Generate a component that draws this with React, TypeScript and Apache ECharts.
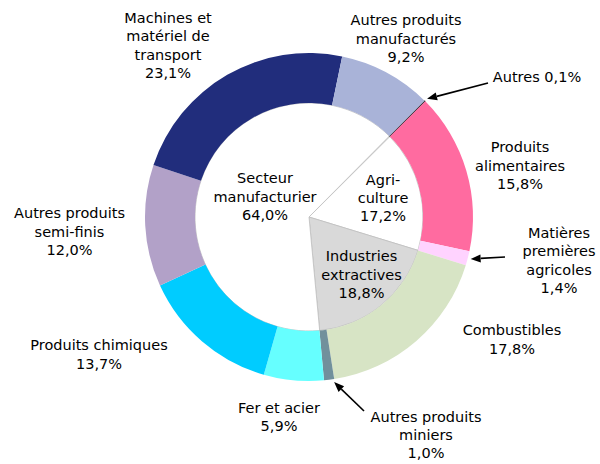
import React, { useEffect, useRef } from "react";
import * as echarts from "echarts";

// Outer ring (products), clockwise starting from "Autres"
const outerNames = [
  "Autres",
  "Produits\nalimentaires",
  "Matières\npremières\nagricoles",
  "Combustibles",
  "Autres produits\nminiers",
  "Fer et acier",
  "Produits chimiques",
  "Autres produits\nsemi-finis",
  "Machines et\nmatériel de\ntransport",
  "Autres produits\nmanufacturés",
];
const outerValues = [0.1, 15.8, 1.4, 17.8, 1.0, 5.9, 13.7, 12.0, 23.1, 9.2];
const outerColors = [
  "#1a1a1a",
  "#FF6BA0",
  "#FFD3FF",
  "#D7E4C5",
  "#71909C",
  "#66FFFF",
  "#00CCFF",
  "#B2A1C8",
  "#212D7C",
  "#A9B3D8",
];

// Inner pie (sectors)
const innerNames = ["Autres", "Agri-\nculture", "Industries\nextractives", "Secteur\nmanufacturier"];
const innerValues = [0.1, 17.2, 18.8, 64.0];
const innerColors = ["#ffffff", "#ffffff", "#D9D9D9", "#ffffff"];

// label anchor positions (layout only)
const outerLabelPos: [number, number][] = [
  [537, 77],
  [520, 165.5],
  [559, 260.5],
  [512, 339.5],
  [426, 435],
  [279, 417],
  [99, 354.5],
  [69.5, 231.5],
  [168, 45.5],
  [406, 38.5],
];
const innerLabelPos: [number, number][] = [
  [0, 0],
  [383, 198],
  [361.5, 274.5],
  [265, 196.5],
];

// arrows: [dataIndex, fraction within slice for tip, tailX, tailY]
const arrows: [number, number, number, number][] = [
  [0, 0.5, 488, 83],
  [2, 0.5, 505, 257],
  [4, 0.05, 364, 411],
];

const CX = 309;
const CY = 217;
const R_IN = 114;
const R_OUT = 164;
const START_THETA = 44.8; // degrees clockwise from 12 o'clock

const fmt = (v: number) => v.toFixed(1).replace(".", ",") + "%";

export default function App() {
  const ref = useRef<HTMLDivElement>(null);
  useEffect(() => {
    document.body.style.margin = "0";
    if (!ref.current) return;
    const chart = echarts.init(ref.current, undefined, { renderer: "svg" });

    const total = outerValues.reduce((a, b) => a + b, 0);
    const cum: number[] = [];
    let acc = 0;
    outerValues.forEach((v) => {
      cum.push(acc);
      acc += v;
    });

    const graphics: any[] = [];
    arrows.forEach(([idx, frac, tx, ty]) => {
      const theta =
        ((START_THETA + ((cum[idx] + outerValues[idx] * frac) / total) * 360) * Math.PI) / 180;
      const r = R_OUT + 3;
      const px = CX + r * Math.sin(theta);
      const py = CY - r * Math.cos(theta);
      const dx = px - tx;
      const dy = py - ty;
      const len = Math.sqrt(dx * dx + dy * dy);
      const ux = dx / len;
      const uy = dy / len;
      const bx = px - ux * 10;
      const by = py - uy * 10;
      const nx = -uy * 4;
      const ny = ux * 4;
      graphics.push({
        type: "line",
        shape: { x1: tx, y1: ty, x2: bx, y2: by },
        style: { stroke: "#000", lineWidth: 1.6 },
        silent: true,
      });
      graphics.push({
        type: "polygon",
        shape: {
          points: [
            [px, py],
            [bx + nx, by + ny],
            [bx - nx, by - ny],
          ],
        },
        style: { fill: "#000" },
        silent: true,
      });
    });

    const textStyle = {
      fontFamily: "DejaVu Sans, Verdana, sans-serif",
      fontSize: 14.5,
      color: "#000",
      lineHeight: 18.3,
      align: "center" as const,
    };

    chart.setOption({
      animation: false,
      backgroundColor: "#ffffff",
      graphic: graphics,
      series: [
        {
          type: "pie",
          center: [CX, CY],
          radius: [0, R_IN],
          startAngle: 90 - START_THETA,
          clockwise: true,
          avoidLabelOverlap: false,
          silent: true,
          itemStyle: { borderColor: "#BFBFBF", borderWidth: 0.8 },
          label: {
            show: true,
            position: "inside",
            ...textStyle,
            formatter: (p: any) => p.name + "\n" + fmt(p.value),
          },
          labelLine: { show: false },
          labelLayout: (p: any) => {
            const pos = innerLabelPos[p.dataIndex];
            return { x: pos[0], y: pos[1], align: "center", verticalAlign: "middle" };
          },
          data: innerNames.map((n, i) => ({
            name: n,
            value: innerValues[i],
            itemStyle: { color: innerColors[i] },
            label: i === 0 ? { show: false } : undefined,
          })),
        },
        {
          type: "pie",
          center: [CX, CY],
          radius: [R_IN, R_OUT],
          startAngle: 90 - START_THETA,
          clockwise: true,
          avoidLabelOverlap: false,
          minAngle: 0,
          silent: true,
          itemStyle: { borderWidth: 0 },
          label: {
            show: true,
            position: "outside",
            ...textStyle,
            formatter: (p: any) =>
              p.dataIndex === 0 ? p.name + " " + fmt(p.value) : p.name + "\n" + fmt(p.value),
          },
          labelLine: { show: false },
          labelLayout: (p: any) => {
            const pos = outerLabelPos[p.dataIndex];
            return { x: pos[0], y: pos[1], align: "center", verticalAlign: "middle" };
          },
          data: outerNames.map((n, i) => ({
            name: n,
            value: outerValues[i],
            itemStyle:
              i === 0
                ? { color: outerColors[i], borderColor: "#1a1a1a", borderWidth: 0.6 }
                : { color: outerColors[i] },
          })),
        },
      ],
    });
    return () => chart.dispose();
  }, []);
  return <div ref={ref} style={{ width: 600, height: 464 }} />;
}
